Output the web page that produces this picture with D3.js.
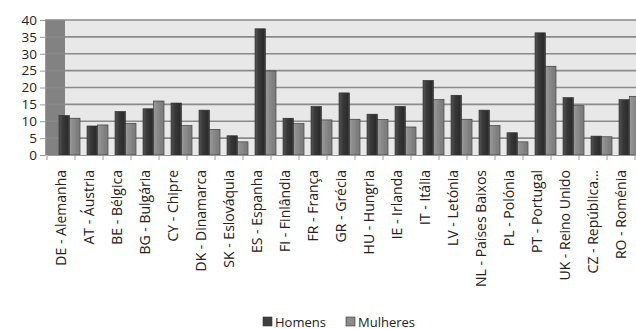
<!DOCTYPE html>
<html>
<head>
<meta charset="utf-8">
<script src="https://cdn.jsdelivr.net/npm/d3@7"></script>
<style>
  html, body { margin: 0; padding: 0; background: #fff; }
  svg { display: block; }
  text { font-family: "Open Sans", "Liberation Sans", sans-serif; fill: #222; }
</style>
</head>
<body>
<svg id="chart" width="636" height="329"></svg>
<script>
// Countries (code - name), Portuguese labels
const categories = [
  "DE - Alemanha", "AT - Áustria", "BE - Bélgica", "BG - Bulgária", "CY - Chipre",
  "DK - Dinamarca", "SK - Eslováquia", "ES - Espanha", "FI - Finlândia", "FR - França",
  "GR - Grécia", "HU - Hungria", "IE - Irlanda", "IT - Itália", "LV - Letónia",
  "NL - Países Baixos", "PL - Polónia", "PT - Portugal", "UK - Reino Unido",
  "CZ - República...", "RO - Roménia"
];
const seriesNames = ["Homens", "Mulheres"];
const homens   = [11.7, 8.6, 12.9, 13.7, 15.4, 13.3, 5.7, 37.4, 10.9, 14.4, 18.4, 12.1, 14.4, 22.1, 17.7, 13.3, 6.6, 36.2, 17.0, 5.6, 16.4];
const mulheres = [10.9, 8.9, 9.4, 16.0, 8.7, 7.6, 3.9, 24.9, 9.3, 10.4, 10.6, 10.5, 8.3, 16.4, 10.6, 8.7, 3.9, 26.3, 14.6, 5.4, 17.4];
const yTicks = [0, 5, 10, 15, 20, 25, 30, 35, 40];

const svg = d3.select("#chart");

const x = d3.scaleBand().domain(categories).range([47, 635]).padding(0);
const y = d3.scaleLinear().domain([0, 40]).range([155, 20]);
// bars sit behind the front axis, shifted right by the depth of the floor
const xs = d3.scaleBand().domain(seriesNames).range([12, 33]).padding(0);

const defs = svg.append("defs");
function grad(id, stops) {
  const g = defs.append("linearGradient").attr("id", id)
    .attr("x1", "0%").attr("x2", "100%").attr("y1", "0%").attr("y2", "0%");
  stops.forEach(([o, c]) => g.append("stop").attr("offset", o).attr("stop-color", c));
}
grad("gH", [["0%", "#555"], ["35%", "#3a3a3a"], ["80%", "#2c2c2c"], ["100%", "#474747"]]);
grad("gM", [["0%", "#9a9a9a"], ["40%", "#8a8a8a"], ["85%", "#7b7b7b"], ["100%", "#8f8f8f"]]);
const fills = { Homens: "url(#gH)", Mulheres: "url(#gM)" };
const swatch = { Homens: "#3f3f3f", Mulheres: "#8c8c8c" };

// back wall and side wall
svg.append("rect").attr("x", 65).attr("y", y(40)).attr("width", 636 - 65).attr("height", y(0) - y(40))
  .attr("fill", "#e8e8e8");
svg.append("rect").attr("x", 45).attr("y", y(40)).attr("width", 20).attr("height", y(0) - y(40))
  .attr("fill", "#828282");

// gridlines
svg.append("g").selectAll("line").data(yTicks.filter(d => d > 0)).join("line")
  .attr("x1", 45).attr("x2", 636)
  .attr("y1", d => y(d)).attr("y2", d => y(d))
  .attr("stroke", "#8a8a8a").attr("stroke-width", 1.6);

// y axis
const yAxis = d3.axisLeft(y).tickValues(yTicks).tickSize(5).tickPadding(3);
const gy = svg.append("g").attr("transform", "translate(45,0)").call(yAxis);
gy.select(".domain").attr("stroke", "#999");
gy.selectAll(".tick line").attr("stroke", "#999");
gy.selectAll(".tick text").attr("font-size", 13.5).attr("fill", "#222")
  .attr("font-family", "'Liberation Sans', sans-serif");

// bars
const rows = categories.map((c, i) => ({ c, Homens: homens[i], Mulheres: mulheres[i] }));
const groups = svg.append("g").selectAll("g").data(rows).join("g")
  .attr("transform", d => `translate(${x(d.c)},0)`);
groups.selectAll("rect").data(d => seriesNames.map(s => ({ s, v: d[s] }))).join("rect")
  .attr("x", d => xs(d.s))
  .attr("y", d => y(d.v))
  .attr("width", xs.bandwidth())
  .attr("height", d => y(0) - y(d.v))
  .attr("fill", d => fills[d.s])
  .attr("stroke", "#2a2a2a").attr("stroke-width", 0.6);

// x axis
const xAxis = d3.axisBottom(x).tickSize(0).tickFormat("");
const gx = svg.append("g").attr("transform", `translate(0,${y(0)})`).call(xAxis);
gx.select(".domain").attr("stroke", "#999");
svg.append("g").selectAll("line").data(categories.concat(["__end"])).join("line")
  .attr("x1", (d, i) => 47 + i * x.bandwidth()).attr("x2", (d, i) => 47 + i * x.bandwidth())
  .attr("y1", y(0)).attr("y2", y(0) + 5)
  .attr("stroke", "#999");

svg.append("g").selectAll("text").data(categories).join("text")
  .attr("transform", d => `translate(${x(d) + x.bandwidth() / 2},170) rotate(-90)`)
  .attr("text-anchor", "end").attr("dy", "0.35em")
  .attr("font-size", 14)
  .text(d => d);

// legend
const legend = svg.append("g").attr("transform", "translate(263,317)");
const items = [{ s: "Homens", dx: 0 }, { s: "Mulheres", dx: 83 }];
items.forEach(it => {
  const g = legend.append("g").attr("transform", `translate(${it.dx},0)`);
  g.append("rect").attr("x", 0).attr("y", 0).attr("width", 9).attr("height", 9)
    .attr("fill", swatch[it.s]).attr("stroke", "#333").attr("stroke-width", 0.6);
  g.append("text").attr("x", 12).attr("y", 9.5).attr("font-size", 13).text(it.s);
});
</script>
</body>
</html>
